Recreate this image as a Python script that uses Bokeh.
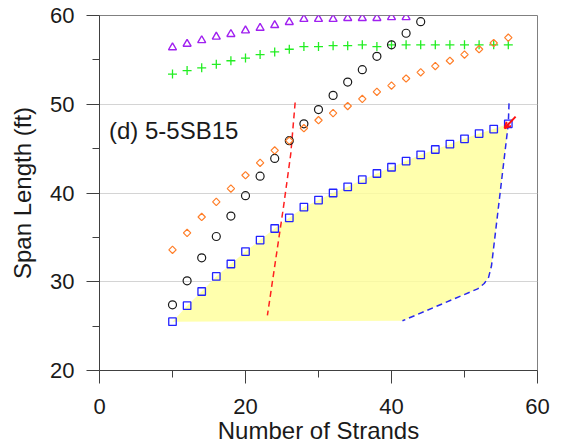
import numpy as np
from bokeh.plotting import figure
from bokeh.models import Range1d, FixedTicker, Label, Arrow, OpenHead
from bokeh.embed import file_html
from bokeh.resources import INLINE

# ---- data ----
strands_a = [10, 12, 14, 16, 18, 20, 22, 24, 26, 28, 30, 32, 34, 36, 38, 40, 42]
triangle_y = [56.4, 56.8, 57.2, 57.6, 57.9, 58.3, 58.6, 58.9, 59.25, 59.6, 59.6, 59.6, 59.7, 59.7, 59.7, 59.8, 59.8]

strands_b = [10, 12, 14, 16, 18, 20, 22, 24, 26, 28, 30, 32, 34, 36, 38, 40, 42, 44, 46, 48, 50, 52, 54, 56]
plus_y = [53.4, 53.8, 54.1, 54.5, 54.9, 55.2, 55.6, 55.9, 56.2, 56.5, 56.5, 56.6, 56.6, 56.7, 56.5, 56.7,
          56.7, 56.7, 56.7, 56.7, 56.7, 56.7, 56.7, 56.7]
diamond_y = [33.6, 35.5, 37.3, 39.0, 40.5, 42.0, 43.4, 44.8, 45.9, 47.3, 48.2, 49.0, 49.8, 50.6, 51.4, 52.1,
             52.9, 53.6, 54.3, 54.9, 55.6, 56.2, 56.9, 57.5]
square_y = [25.5, 27.3, 28.9, 30.6, 32.0, 33.4, 34.7, 36.0, 37.2, 38.4, 39.2, 40.0, 40.7, 41.5, 42.2, 42.9,
            43.6, 44.3, 44.9, 45.5, 46.1, 46.7, 47.2, 47.8]

strands_c = [10, 12, 14, 16, 18, 20, 22, 24, 26, 28, 30, 32, 34, 36, 38, 40, 42, 44]
circle_y = [27.4, 30.1, 32.7, 35.1, 37.4, 39.7, 41.9, 43.9, 45.9, 47.8, 49.4, 51.0, 52.5, 53.9, 55.4, 56.7, 58.0, 59.3]

red_dash_x = [26.8, 26.2, 25.2, 23.0]
red_dash_y = [50.2, 44.4, 38.4, 26.2]

blue_dash_x = [56.1, 56.0, 53.7, 53.3, 52.7, 51.8, 41.5]
blue_dash_y = [50.1, 47.8, 31.8, 30.5, 29.8, 29.2, 25.6]

arrow_from = (57.0, 48.6)
arrow_to = (55.5, 47.3)

x_ticks = [0, 20, 40, 60]
x_minor = [10, 30, 50]
y_ticks = [20, 30, 40, 50, 60]
y_minor = [25, 35, 45, 55]

panel_label = "(d) 5-5SB15"

# ---- figure ----
FONT = "Liberation Sans"
TXT = "#1a1a1a"

p = figure(width=561, height=448, output_backend="svg", toolbar_location=None,
           x_range=Range1d(0, 60), y_range=Range1d(20, 60),
           min_border_left=99, min_border_right=24, min_border_top=15, min_border_bottom=78)
p.background_fill_color = "white"
p.border_fill_color = "white"
p.outline_line_color = "#808080"
p.outline_line_width = 1

p.xgrid.visible = False
p.ygrid.ticker = FixedTicker(ticks=[30, 40, 50])
p.ygrid.grid_line_color = "#d4d4d4"
p.ygrid.grid_line_width = 1

for ax in (p.xaxis[0], p.yaxis[0]):
    ax.axis_line_color = "#404040"
    ax.major_tick_line_color = "#404040"
    ax.minor_tick_line_color = "#404040"
    ax.major_tick_in = 0
    ax.minor_tick_in = 0
    ax.major_tick_out = 13
    ax.minor_tick_out = 7
    ax.major_label_text_font = FONT
    ax.major_label_text_font_size = "22px"
    ax.major_label_text_color = TXT
    ax.axis_label_text_font = FONT
    ax.axis_label_text_font_size = "24px"
    ax.axis_label_text_font_style = "normal"
    ax.axis_label_text_color = TXT

p.xaxis[0].ticker = FixedTicker(ticks=x_ticks, minor_ticks=x_minor)
p.yaxis[0].ticker = FixedTicker(ticks=y_ticks, minor_ticks=y_minor)
p.xaxis[0].axis_label = "Number of Strands"
p.yaxis[0].axis_label = "Span Length (ft)"
p.xaxis[0].major_label_standoff = 15
p.xaxis[0].axis_label_standoff = 0
p.yaxis[0].major_label_standoff = 12
p.yaxis[0].axis_label_standoff = 11

# shaded region
fill_x = list(strands_b) + blue_dash_x[1:]
fill_y = list(square_y) + blue_dash_y[1:]
p.patch(fill_x, fill_y, fill_color="#ffff99", fill_alpha=0.8, line_color=None)

# dashed boundaries
p.line(red_dash_x, red_dash_y, line_color="#ff2020", line_width=1.5, line_dash="6 4")
p.line(blue_dash_x, blue_dash_y, line_color="#2a2aee", line_width=1.5, line_dash="6 4")

# markers
p.scatter(strands_a, triangle_y, marker="triangle", size=8, fill_color=None,
          line_color="#a020f0", line_width=1.4)
p.scatter(strands_b, plus_y, marker="cross", size=9, line_color="#22ee22", line_width=1.3)
p.scatter(strands_c, circle_y, marker="circle", size=8, fill_color=None,
          line_color="#1a1a1a", line_width=1.2)
p.scatter(strands_b, diamond_y, marker="square", angle=np.pi / 4, size=5.2, fill_color=None,
          line_color="#ff7f2a", line_width=1.2)
p.scatter(strands_b, square_y, marker="square", size=7.5, fill_color=None,
          line_color="#2222ff", line_width=1.3)

# red arrow
p.add_layout(Arrow(x_start=arrow_from[0], y_start=arrow_from[1], x_end=arrow_to[0], y_end=arrow_to[1],
                   line_color="#ff1010", line_width=2,
                   end=OpenHead(size=6, line_color="#ff1010", line_width=2)))

p.add_layout(Label(x=1.3, y=47.0, text=panel_label, text_font=FONT, text_font_size="24px",
                   text_color=TXT, text_baseline="middle", text_align="left"))

open("out.html", "w").write(file_html(p, INLINE))
